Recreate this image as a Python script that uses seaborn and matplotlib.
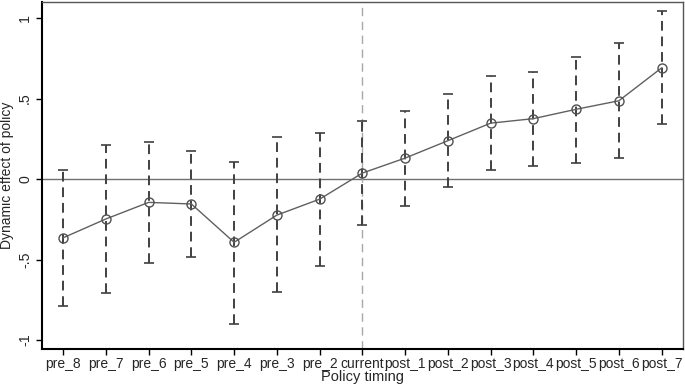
import matplotlib
matplotlib.use("Agg")
import matplotlib.pyplot as plt
import numpy as np
import pandas as pd
import seaborn as sns

# event-study estimates
periods = ["pre_8", "pre_7", "pre_6", "pre_5", "pre_4", "pre_3", "pre_2", "current",
           "post_1", "post_2", "post_3", "post_4", "post_5", "post_6", "post_7"]
coef = [-0.365, -0.248, -0.145, -0.155, -0.393, -0.224, -0.125, 0.037,
        0.13, 0.238, 0.347, 0.375, 0.433, 0.486, 0.69]
ci_low = [-0.787, -0.71, -0.52, -0.482, -0.90, -0.70, -0.54, -0.286,
          -0.168, -0.05, 0.056, 0.083, 0.10, 0.128, 0.34]
ci_high = [0.056, 0.211, 0.232, 0.174, 0.107, 0.26, 0.286, 0.36,
           0.42, 0.528, 0.64, 0.665, 0.76, 0.843, 1.043]
yticks = [-1, -0.5, 0, 0.5, 1]
yticklabels = ["-1", "-.5", "0", ".5", "1"]

df = pd.DataFrame({"period": periods, "coef": coef, "lo": ci_low, "hi": ci_high})
df["pos"] = np.arange(len(df))

sns.set_style("white")
plt.rcParams["font.family"] = ["Liberation Sans", "DejaVu Sans"]
plt.rcParams["font.size"] = 10

fig = plt.figure(figsize=(6.85, 3.84), dpi=100)
ax = fig.add_axes([0.061, 0.091, 0.936, 0.904])

# zero line and treatment timing line
ax.axhline(0, color="#707070", linewidth=1.0, zorder=1)
ax.axvline(df.loc[df["period"] == "current", "pos"].iloc[0], color="#a8a8a8",
           linewidth=1.0, linestyle=(0, (6, 4)), zorder=1)

# confidence intervals
_, caps, bars = ax.errorbar(df["pos"], df["coef"],
                            yerr=[df["coef"] - df["lo"], df["hi"] - df["coef"]],
                            fmt="none", ecolor="#404040", elinewidth=1.4,
                            capsize=3.5, capthick=1.2, zorder=2)
bars[0].set_linestyle((0, (5, 3)))

# point estimates
sns.lineplot(data=df, x="pos", y="coef", ax=ax, color="#606060", linewidth=1.0,
             marker="o", markersize=6.5, markerfacecolor="none",
             markeredgecolor="#505050", markeredgewidth=1.0, zorder=3)

ax.set_xlim(-0.5, len(df) - 0.5)
ax.set_ylim(-1.056, 1.1)
ax.set_xticks(df["pos"])
ax.set_xticklabels(df["period"], fontsize=10)
ax.set_yticks(yticks)
ax.set_yticklabels(yticklabels, rotation=90, va="center", fontsize=10.2)
ax.tick_params(axis="x", direction="out", length=4, width=1, color="black",
               bottom=True, pad=1.5)
ax.tick_params(axis="y", direction="out", length=4, width=1, color="black",
               left=True, pad=3)
ax.set_xlabel("Policy timing", labelpad=-0.5, fontsize=10.5)
ax.set_ylabel("Dynamic effect of policy", labelpad=3, fontsize=10)

for side in ["left", "bottom"]:
    ax.spines[side].set_color("black")
    ax.spines[side].set_linewidth(1.5)
for side in ["top", "right"]:
    ax.spines[side].set_color("#555555")
    ax.spines[side].set_linewidth(1.0)

fig.savefig("out.png", dpi=100)
